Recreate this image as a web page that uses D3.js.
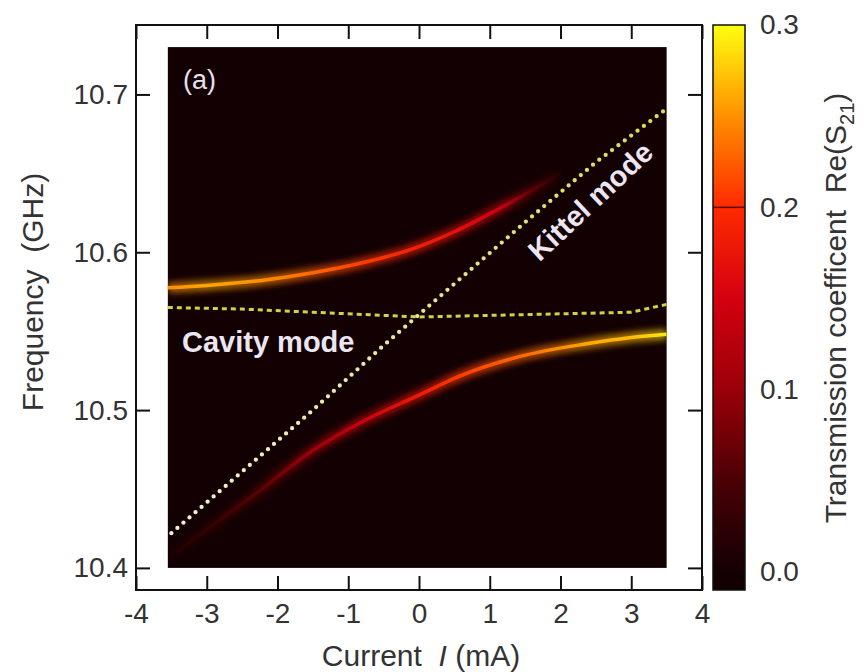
<!DOCTYPE html>
<html>
<head>
<meta charset="utf-8">
<script src="https://cdn.jsdelivr.net/npm/d3@7"></script>
<style>
  body { margin: 0; background: #fff; }
  text { font-family: "Liberation Sans", Arial, sans-serif; }
</style>
</head>
<body>
<div id="chart"></div>
<script>
// upper polariton branch: current (mA), frequency (GHz), Re(S21)
const upperI   = [-3.55, -3.0, -2.25, -1.5, -0.83, -0.1, 0.5, 1.15, 1.55, 2.0];
const upperF   = [10.5775, 10.579, 10.582, 10.587, 10.593, 10.602, 10.613, 10.628, 10.638, 10.650];
const upperAmp = [0.25, 0.26, 0.25, 0.23, 0.21, 0.19, 0.17, 0.14, 0.07, 0.01];

// lower polariton branch
const lowerI   = [-3.5, -2.95, -2.25, -1.55, -0.83, 0.0, 0.6, 1.43, 2.37, 3.0, 3.5];
const lowerF   = [10.408, 10.426, 10.449, 10.473, 10.492, 10.5095, 10.522, 10.534, 10.542, 10.546, 10.548];
const lowerAmp = [0.01, 0.03, 0.06, 0.10, 0.14, 0.18, 0.21, 0.23, 0.26, 0.27, 0.29];

// uncoupled modes
const kittelI = [-3.5, -2.5, -1.5, -0.5, 0.5, 1.5, 2.5, 3.5];
const kittelF = [10.422, 10.461, 10.500, 10.541, 10.580, 10.619, 10.657, 10.691];
const cavityI = [-3.55, -2.5, -1.5, -0.5, 0.0, 1.0, 2.0, 3.0, 3.5];
const cavityF = [10.565, 10.564, 10.562, 10.560, 10.559, 10.560, 10.561, 10.562, 10.567];

const xTicks  = [-4, -3, -2, -1, 0, 1, 2, 3, 4];
const yTicks  = [10.4, 10.5, 10.6, 10.7];
const cbTicks = [0.0, 0.1, 0.2, 0.3];

const width = 863, height = 672;
const margin = {left: 136, top: 25};
const plotW = 566, plotH = 565;

const svg = d3.select("#chart").append("svg")
    .attr("width", width)
    .attr("height", height);

const x = d3.scaleLinear().domain([-4, 4]).range([0, plotW]);
const y = d3.scaleLinear().domain([10.386, 10.744]).range([plotH, 0]);

// colour map like the reference bar
const color = d3.scaleLinear()
    .domain([0, 0.05, 0.1, 0.15, 0.2, 0.25, 0.3])
    .range(["#130003", "#4a0004", "#9a0008", "#d40010", "#ff2a00", "#ff9000", "#ffff10"])
    .clamp(true);

const defs = svg.append("defs");
defs.append("filter").attr("id", "glow")
    .attr("x", "-20%").attr("y", "-50%").attr("width", "140%").attr("height", "200%")
    .append("feGaussianBlur").attr("stdDeviation", 3);
defs.append("clipPath").attr("id", "mapclip")
    .append("rect")
    .attr("x", x(-3.55)).attr("y", y(10.73))
    .attr("width", x(3.5) - x(-3.55))
    .attr("height", y(10.4) - y(10.73));

const g = svg.append("g")
    .attr("transform", "translate(" + margin.left + "," + margin.top + ")");

// dark map
g.append("rect")
    .attr("x", x(-3.55)).attr("y", y(10.73))
    .attr("width", x(3.5) - x(-3.55))
    .attr("height", y(10.4) - y(10.73))
    .attr("fill", "#130003");

const mapG = g.append("g").attr("clip-path", "url(#mapclip)");

const line = d3.line()
    .x(d => x(d[0]))
    .y(d => y(d[1]))
    .curve(d3.curveMonotoneX);

function drawBranch(id, I, F, A) {
    const pts = I.map((v, i) => [v, F[i]]);
    const grad = defs.append("linearGradient")
        .attr("id", id)
        .attr("gradientUnits", "userSpaceOnUse")
        .attr("x1", x(I[0])).attr("x2", x(I[I.length - 1]))
        .attr("y1", 0).attr("y2", 0);
    const span = I[I.length - 1] - I[0];
    grad.selectAll("stop")
        .data(I)
        .enter().append("stop")
        .attr("offset", d => (d - I[0]) / span)
        .attr("stop-color", (d, i) => color(A[i]));

    mapG.append("path")
        .attr("d", line(pts))
        .attr("fill", "none")
        .attr("stroke", "url(#" + id + ")")
        .attr("stroke-width", 11)
        .attr("opacity", 0.6)
        .attr("filter", "url(#glow)");
    mapG.append("path")
        .attr("d", line(pts))
        .attr("fill", "none")
        .attr("stroke", "url(#" + id + ")")
        .attr("stroke-width", 3.5);
}

drawBranch("upperGrad", upperI, upperF, upperAmp);
drawBranch("lowerGrad", lowerI, lowerF, lowerAmp);

// cavity mode (dashed)
mapG.append("path")
    .attr("d", line.curve(d3.curveLinear)(cavityI.map((v, i) => [v, cavityF[i]])))
    .attr("fill", "none")
    .attr("stroke", "#cdd44a")
    .attr("stroke-width", 3)
    .attr("stroke-dasharray", "5 4");

// kittel mode (dotted)
const kGrad = defs.append("linearGradient")
    .attr("id", "kGrad")
    .attr("gradientUnits", "userSpaceOnUse")
    .attr("x1", x(kittelI[0])).attr("x2", x(kittelI[kittelI.length - 1]))
    .attr("y1", 0).attr("y2", 0);
kGrad.append("stop").attr("offset", 0).attr("stop-color", "#f3f1d2");
kGrad.append("stop").attr("offset", 1).attr("stop-color", "#d6de52");

mapG.append("path")
    .attr("d", line(kittelI.map((v, i) => [v, kittelF[i]])))
    .attr("fill", "none")
    .attr("stroke", "url(#kGrad)")
    .attr("stroke-width", 4.3)
    .attr("stroke-linecap", "round")
    .attr("stroke-dasharray", "0 8");

// labels inside the map
g.append("text")
    .attr("x", 47).attr("y", 64)
    .attr("fill", "#e6e2ea")
    .style("font-size", "27px")
    .text("(a)");

g.append("text")
    .attr("x", 46).attr("y", 327)
    .attr("fill", "#ebe6f2")
    .style("font-size", "29px")
    .style("font-weight", "bold")
    .text("Cavity mode");

g.append("text")
    .attr("transform", "translate(" + 456 + "," + 178 + ") rotate(-43)")
    .attr("text-anchor", "middle")
    .attr("dominant-baseline", "middle")
    .attr("fill", "#ebe6f2")
    .style("font-size", "29px")
    .style("font-weight", "bold")
    .text("Kittel mode");

// axes with inward ticks
function styleAxis(sel) {
    sel.select(".domain").remove();
    sel.selectAll("line").attr("stroke", "#111").attr("stroke-width", 2);
    sel.selectAll("text")
        .attr("fill", "#333")
        .style("font-size", "28px")
        .attr("font-family", null);
}

g.append("g")
    .attr("transform", "translate(0," + plotH + ")")
    .call(d3.axisBottom(x).tickValues(xTicks).tickSize(-14).tickPadding(13)
        .tickFormat(d => d < 0 ? "-" + Math.abs(d) : d))
    .call(styleAxis);
g.append("g")
    .call(d3.axisTop(x).tickValues(xTicks).tickSize(-14).tickFormat(""))
    .call(styleAxis);
g.append("g")
    .call(d3.axisLeft(y).tickValues(yTicks).tickSize(-14).tickPadding(8)
        .tickFormat(d3.format(".1f")))
    .call(styleAxis);
g.append("g")
    .attr("transform", "translate(" + plotW + ",0)")
    .call(d3.axisRight(y).tickValues(yTicks).tickSize(-14).tickFormat(""))
    .call(styleAxis);

g.append("rect")
    .attr("width", plotW).attr("height", plotH)
    .attr("fill", "none")
    .attr("stroke", "#111")
    .attr("stroke-width", 2);

// axis titles
const xTitle = svg.append("text")
    .attr("x", 421).attr("y", 666)
    .attr("text-anchor", "middle")
    .attr("fill", "#333")
    .style("font-size", "30px");
xTitle.append("tspan").text("Current\u00a0\u00a0");
xTitle.append("tspan").style("font-style", "italic").text("I");
xTitle.append("tspan").text(" (mA)");

svg.append("text")
    .attr("transform", "translate(43,292) rotate(-90)")
    .attr("text-anchor", "middle")
    .attr("fill", "#333")
    .style("font-size", "30px")
    .text("Frequency\u00a0\u00a0(GHz)");

// colour bar
const cbX = 713, cbW = 32, cbTop = 25, cbBottom = 590;
const cb = d3.scaleLinear().domain([0, 0.3]).range([572, cbTop]);

const cbGrad = defs.append("linearGradient")
    .attr("id", "cbGrad")
    .attr("gradientUnits", "userSpaceOnUse")
    .attr("x1", 0).attr("x2", 0)
    .attr("y1", cb(0)).attr("y2", cb(0.3));
cbGrad.selectAll("stop")
    .data(color.domain())
    .enter().append("stop")
    .attr("offset", d => d / 0.3)
    .attr("stop-color", d => color(d));

svg.append("rect")
    .attr("x", cbX).attr("y", cbTop)
    .attr("width", cbW).attr("height", cbBottom - cbTop)
    .attr("fill", "url(#cbGrad)")
    .attr("stroke", "#111")
    .attr("stroke-width", 1.5);

svg.append("line")
    .attr("x1", cbX).attr("x2", cbX + cbW)
    .attr("y1", cb(0.2)).attr("y2", cb(0.2))
    .attr("stroke", "#5a0000")
    .attr("stroke-width", 1.5);

svg.append("g")
    .attr("transform", "translate(" + (cbX + cbW) + ",0)")
    .call(d3.axisRight(cb).tickValues(cbTicks).tickSize(0).tickPadding(15)
        .tickFormat(d3.format(".1f")))
    .call(styleAxis);

const cbTitle = svg.append("text")
    .attr("transform", "translate(846,308) rotate(-90)")
    .attr("text-anchor", "middle")
    .attr("fill", "#333")
    .style("font-size", "30px");
cbTitle.append("tspan").text("Transmission coefficent\u00a0\u00a0Re(S");
cbTitle.append("tspan").attr("dy", 8).style("font-size", "20px").text("21");
cbTitle.append("tspan").attr("dy", -8).text(")");
</script>
</body>
</html>
